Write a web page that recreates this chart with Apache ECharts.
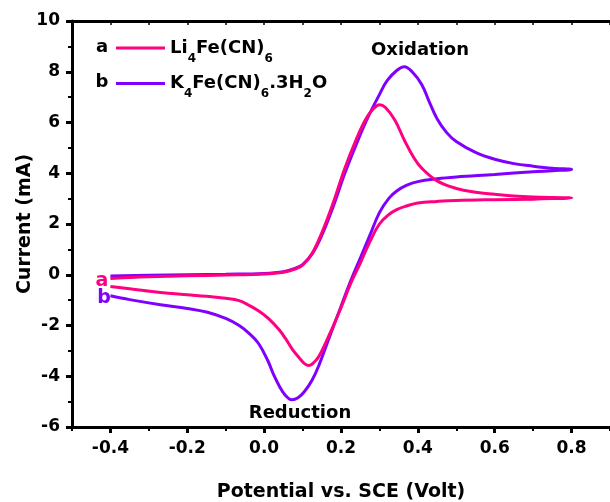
<!DOCTYPE html>
<html>
<head>
<meta charset="utf-8">
<script src="https://cdn.jsdelivr.net/npm/echarts@6/dist/echarts.min.js"></script>
<style>
  html, body { margin: 0; padding: 0; background: #fff; }
  #chart { width: 610px; height: 502px; }
</style>
</head>
<body>
<div id="chart"></div>
<script>
// Li4Fe(CN)6 (curve a) - potential (V vs SCE) and current (mA), forward then reverse scan
const liVolt = [
  -0.4, -0.35, -0.3, -0.2, -0.1, 0.0, 0.05, 0.08, 0.1, 0.125, 0.15, 0.18, 0.21, 0.24, 0.265, 0.285, 0.3,
  0.315, 0.34, 0.365, 0.39, 0.41, 0.45, 0.5, 0.55, 0.6, 0.65, 0.7, 0.75, 0.8,
  0.75, 0.7, 0.6, 0.5, 0.45, 0.4, 0.37, 0.345, 0.325, 0.3, 0.275, 0.25, 0.225, 0.2, 0.17, 0.143, 0.13,
  0.117, 0.105, 0.09, 0.074, 0.055, 0.039, 0.013, -0.013, -0.04, -0.065, -0.1, -0.15, -0.2, -0.27, -0.35, -0.4
];
const liCurrent = [
  -0.15, -0.11, -0.08, -0.04, -0.01, 0.03, 0.1, 0.22, 0.38, 0.85, 1.65, 2.85, 4.2, 5.35, 6.15, 6.55, 6.7,
  6.6, 6.1, 5.3, 4.6, 4.2, 3.7, 3.4, 3.25, 3.17, 3.1, 3.06, 3.04, 3.03,
  3.0, 2.98, 2.96, 2.93, 2.89, 2.83, 2.71, 2.57, 2.38, 2.0, 1.3, 0.45, -0.35, -1.3, -2.35, -3.2, -3.45,
  -3.58, -3.5, -3.25, -2.95, -2.5, -2.17, -1.75, -1.44, -1.2, -1.02, -0.93, -0.85, -0.79, -0.7, -0.55, -0.46
];

// K4Fe(CN)6.3H2O (curve b)
const kVolt = [
  -0.4, -0.3, -0.2, -0.1, 0.0, 0.05, 0.08, 0.1, 0.125, 0.15, 0.18, 0.21, 0.24, 0.27, 0.3, 0.32, 0.345,
  0.365, 0.385, 0.41, 0.43, 0.45, 0.475, 0.5, 0.55, 0.6, 0.65, 0.7, 0.75, 0.8,
  0.75, 0.7, 0.6, 0.5, 0.45, 0.4, 0.37, 0.345, 0.325, 0.3, 0.275, 0.25, 0.225, 0.2, 0.17, 0.143, 0.125,
  0.105, 0.088, 0.072, 0.055, 0.04, 0.025, 0.01, -0.015, -0.04, -0.065, -0.1, -0.15, -0.2, -0.27, -0.35, -0.4
];
const kCurrent = [
  -0.05, -0.02, 0.0, 0.02, 0.05, 0.12, 0.25, 0.4, 0.82, 1.55, 2.7, 4.0, 5.15, 6.2, 7.1, 7.65, 8.05,
  8.2, 8.0, 7.5, 6.8, 6.15, 5.6, 5.25, 4.82, 4.55, 4.38, 4.28, 4.2, 4.15,
  4.1, 4.06, 3.95, 3.85, 3.78, 3.67, 3.52, 3.3, 3.02, 2.45, 1.55, 0.65, -0.25, -1.25, -2.45, -3.55, -4.15,
  -4.6, -4.85, -4.93, -4.75, -4.4, -3.95, -3.4, -2.7, -2.3, -2.0, -1.72, -1.47, -1.33, -1.18, -0.98, -0.83
];

const seriesNames = ['Li4Fe(CN)6', 'K4Fe(CN)6.3H2O'];
const legendRich = {
  'Li4Fe(CN)6': '{n|Li}{s|4}{n|Fe(CN)}{s|6}',
  'K4Fe(CN)6.3H2O': '{n|K}{s|4}{n|Fe(CN)}{s|6}{n|.3H}{s|2}{n|O}'
};
const xMajorTicks = [-0.4, -0.2, 0.0, 0.2, 0.4, 0.6, 0.8];
const colors = ['#ff0080', '#8000ff'];

const FONT = 'DejaVu Sans';
const pair = (xs, ys) => xs.map((x, i) => [x, ys[i]]);

const chart = echarts.init(document.getElementById('chart'));

const axisLineStyle = { color: '#000', width: 3 };

const option = {
  animation: false,
  backgroundColor: '#fff',
  grid: { left: 72, top: 21, bottom: 75, right: 0, outerBoundsMode: 'none', containLabel: false },
  xAxis: [
    {
      type: 'value', min: -0.5, max: 0.9, position: 'bottom',
      axisLine: { onZero: false, lineStyle: axisLineStyle },
      axisTick: { customValues: xMajorTicks, length: 6, lineStyle: { width: 3, color: '#000' } },
      axisLabel: {
        customValues: xMajorTicks, margin: 13,
        formatter: v => v.toFixed(1),
        color: '#000', fontFamily: FONT, fontWeight: 'bold', fontSize: 17
      },
      splitLine: { show: false },
      name: 'Potential vs. SCE (Volt)', nameLocation: 'middle', nameGap: 56, nameMoveOverlap: false,
      nameTextStyle: { color: '#000', fontFamily: FONT, fontWeight: 'bold', fontSize: 19 }
    },
    {
      // minor ticks every 0.1
      type: 'value', min: -0.5, max: 0.9, interval: 0.1, position: 'bottom',
      axisLine: { show: false, onZero: false },
      axisTick: { length: 4, lineStyle: { width: 2, color: '#000' } },
      axisLabel: { show: false },
      splitLine: { show: false }
    },
    {
      // top frame
      type: 'value', min: -0.5, max: 0.9, interval: 0.1, position: 'top',
      axisLine: { onZero: false, lineStyle: axisLineStyle },
      axisTick: { inside: true, length: 4, lineStyle: { width: 1.5, color: '#000' } },
      axisLabel: { show: false },
      splitLine: { show: false }
    }
  ],
  yAxis: {
    type: 'value', min: -6, max: 10, interval: 2, position: 'left',
    axisLine: { show: true, onZero: false, lineStyle: axisLineStyle },
    axisTick: { show: true, length: 6, lineStyle: { width: 3, color: '#000' } },
    minorTick: { show: true, splitNumber: 2, length: 4, lineStyle: { width: 2, color: '#000' } },
    axisLabel: { margin: 12, color: '#000', fontFamily: FONT, fontWeight: 'bold', fontSize: 17 },
    splitLine: { show: false },
    name: 'Current (mA)', nameLocation: 'middle', nameGap: 37, nameMoveOverlap: false,
    nameTextStyle: { color: '#000', fontFamily: FONT, fontWeight: 'bold', fontSize: 19 }
  },
  legend: {
    orient: 'vertical', left: 116, top: 39, padding: 0, itemGap: 10,
    icon: 'rect', itemWidth: 49, itemHeight: 3,
    data: seriesNames,
    formatter: name => legendRich[name],
    textStyle: {
      color: '#000', fontFamily: FONT, fontWeight: 'bold',
      rich: {
        n: { fontSize: 18, fontWeight: 'bold', fontFamily: FONT, color: '#000', lineHeight: 33, verticalAlign: 'middle' },
        s: { fontSize: 12, fontWeight: 'bold', fontFamily: FONT, color: '#000', lineHeight: 12, verticalAlign: 'bottom' }
      }
    }
  },
  graphic: [
    { type: 'text', x: 102, y: 47, style: { text: 'a', fill: '#000', font: 'bold 18px "DejaVu Sans"', textAlign: 'center', textVerticalAlign: 'middle' } },
    { type: 'text', x: 102, y: 82, style: { text: 'b', fill: '#000', font: 'bold 18px "DejaVu Sans"', textAlign: 'center', textVerticalAlign: 'middle' } },
    { type: 'text', x: 102, y: 281, style: { text: 'a', fill: colors[0], font: 'bold 19px "DejaVu Sans"', textAlign: 'center', textVerticalAlign: 'middle' } },
    { type: 'text', x: 104, y: 298, style: { text: 'b', fill: colors[1], font: 'bold 19px "DejaVu Sans"', textAlign: 'center', textVerticalAlign: 'middle' } },
    { type: 'text', x: 420, y: 50, style: { text: 'Oxidation', fill: '#000', font: 'bold 18px "DejaVu Sans"', textAlign: 'center', textVerticalAlign: 'middle' } },
    { type: 'text', x: 300, y: 413, style: { text: 'Reduction', fill: '#000', font: 'bold 18px "DejaVu Sans"', textAlign: 'center', textVerticalAlign: 'middle' } }
  ],
  series: [
    {
      name: seriesNames[0], type: 'line', xAxisIndex: 0,
      data: pair(liVolt, liCurrent),
      showSymbol: false, symbol: 'none', smooth: 0.4,
      color: colors[0], lineStyle: { width: 3, color: colors[0] }, z: 3
    },
    {
      name: seriesNames[1], type: 'line', xAxisIndex: 0,
      data: pair(kVolt, kCurrent),
      showSymbol: false, symbol: 'none', smooth: 0.4,
      color: colors[1], lineStyle: { width: 3, color: colors[1] }, z: 2
    }
  ]
};

chart.setOption(option);
</script>
</body>
</html>
